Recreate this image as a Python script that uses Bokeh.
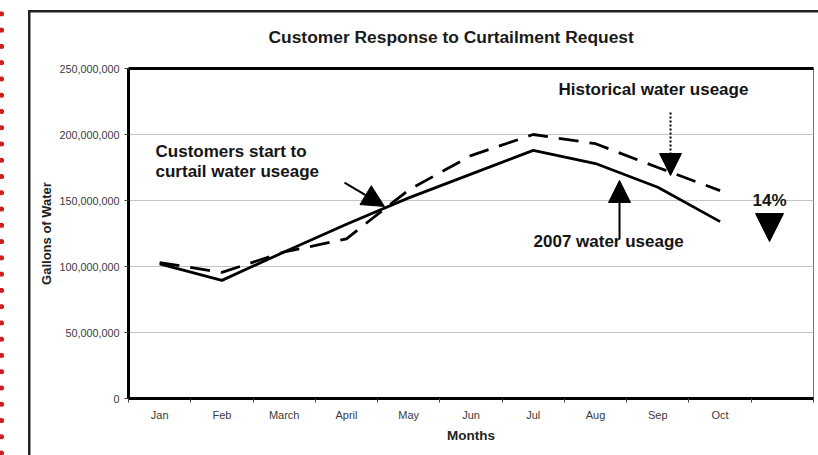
from bokeh.plotting import figure
from bokeh.models import (Range1d, FixedTicker, NumeralTickFormatter, CustomJSTickFormatter,
                          LinearAxis, Label, Arrow, NormalHead)
from bokeh.embed import file_html
from bokeh.resources import INLINE

# ---- data ----
months = ["Jan", "Feb", "March", "April", "May", "Jun", "Jul", "Aug", "Sep", "Oct"]
n_slots = 11  # one empty slot after Oct
usage_2007 = [102e6, 89.5e6, 111e6, 132e6, 152e6, 170e6, 188e6, 178e6, 160e6, 134e6]
usage_hist = [103e6, 95.5e6, 111e6, 121e6, 158e6, 184e6, 200e6, 193e6, 175e6, 157.5e6]
y_ticks = [0, 50e6, 100e6, 150e6, 200e6, 250e6]

FONT = "Liberation Sans"
x_pos = [i + 0.5 for i in range(len(months))]

# page decoration (red dotted edge + outer black frame), drawn as CSS background
page_bg = ("radial-gradient(circle at 1.5px 14px, #cc1f1f 2.3px, rgba(255,255,255,0) 2.9px) "
           "0px 0px / 6px 16.27px repeat-y, "
           "linear-gradient(#222222, #222222) 28px 9.5px / 2.5px 600px no-repeat, "
           "linear-gradient(#222222, #222222) 28px 9.5px / 1000px 2.5px no-repeat, "
           "#ffffff")

p = figure(width=818, height=455, output_backend="svg", toolbar_location=None,
           x_range=Range1d(0, n_slots), y_range=Range1d(0, 250e6),
           min_border_left=128, min_border_top=68, min_border_bottom=57, min_border_right=5,
           background_fill_color="white", border_fill_color=None)
p.styles = {"background": page_bg}
p.outline_line_color = "#777777"
p.outline_line_width = 1
p.xgrid.visible = False
p.ygrid.grid_line_color = "#c4c4c4"
p.ygrid.grid_line_width = 1

p.title.text = "Customer Response to Curtailment Request"
p.title.align = "left"
p.title.offset = 140
p.title.standoff = 44
p.title.text_font = FONT
p.title.text_font_style = "bold"
p.title.text_font_size = "17.4px"
p.title.text_color = "#1a1a1a"

ya = p.yaxis[0]
ya.ticker = FixedTicker(ticks=y_ticks)
ya.formatter = NumeralTickFormatter(format="0,0")
ya.axis_line_width = 3
ya.axis_line_color = "black"
ya.major_tick_out = 4
ya.major_tick_in = 0
ya.major_tick_line_color = "#444444"
ya.minor_tick_line_color = None
ya.major_label_text_font = FONT
ya.major_label_text_font_size = "10.8px"
ya.major_label_text_color = "#3a3a3a"
ya.major_label_standoff = 5
ya.axis_label = "Gallons of Water"
ya.axis_label_text_font = FONT
ya.axis_label_text_font_style = "bold"
ya.axis_label_text_font_size = "13px"
ya.axis_label_text_color = "#222222"
ya.axis_label_standoff = 2

xa = p.xaxis[0]
xa.ticker = FixedTicker(ticks=x_pos, minor_ticks=list(range(n_slots + 1)))
xa.formatter = CustomJSTickFormatter(
    args=dict(labels=months),
    code="const i = Math.floor(tick); return (i >= 0 && i < labels.length) ? labels[i] : '';")
xa.major_tick_line_color = None
xa.minor_tick_out = 4
xa.minor_tick_in = 0
xa.minor_tick_line_color = "#444444"
xa.axis_line_width = 3
xa.axis_line_color = "black"
xa.major_label_text_font = FONT
xa.major_label_text_font_size = "11px"
xa.major_label_text_color = "#3a3a3a"
xa.major_label_standoff = 4
xa.axis_label = "Months"
xa.axis_label_text_font = FONT
xa.axis_label_text_font_style = "bold"
xa.axis_label_text_font_size = "13.5px"
xa.axis_label_text_color = "#222222"
xa.axis_label_standoff = 4

top = LinearAxis(ticker=FixedTicker(ticks=[]), axis_line_width=3, axis_line_color="black",
                 major_tick_line_color=None, minor_tick_line_color=None,
                 major_label_text_font_size="0px")
p.add_layout(top, "above")

# ---- series ----
p.line(x_pos, usage_hist, line_color="black", line_width=2.8, line_dash="20 11")
p.line(x_pos, usage_2007, line_color="black", line_width=2.8)

# ---- texts ----
def note(x, y, text, size="17px"):
    p.add_layout(Label(x=x, y=y, text=text, text_font=FONT, text_font_style="bold",
                       text_font_size=size, text_color="#151515", text_align="left",
                       text_baseline="alphabetic"))

note(0.434, 187.5e6, "Customers start to")
note(0.434, 172.3e6, "curtail water useage")
note(6.905, 234.3e6, "Historical water useage")
note(6.504, 119.3e6, "2007 water useage")
note(10.021, 149.8e6, "14%")

# ---- arrows ----
p.add_layout(Arrow(end=NormalHead(size=22, fill_color="black", line_color="black"),
                   x_start=3.469, y_start=163.6e6, x_end=4.111, y_end=145.5e6,
                   line_width=2, line_color="black"))
p.add_layout(Arrow(end=NormalHead(size=22, fill_color="black", line_color="black"),
                   x_start=8.704, y_start=216.7e6, x_end=8.704, y_end=168.9e6,
                   line_width=2, line_color="black", line_dash="2 2"))
p.add_layout(Arrow(end=NormalHead(size=22, fill_color="black", line_color="black"),
                   x_start=7.885, y_start=121.2e6, x_end=7.885, y_end=165.2e6,
                   line_width=2, line_color="black"))
p.add_layout(Arrow(end=NormalHead(size=28, fill_color="black", line_color="black"),
                   x_start=10.294, y_start=140.2e6, x_end=10.294, y_end=118.9e6,
                   line_alpha=0))

open("out.html", "w").write(file_html(p, INLINE))
